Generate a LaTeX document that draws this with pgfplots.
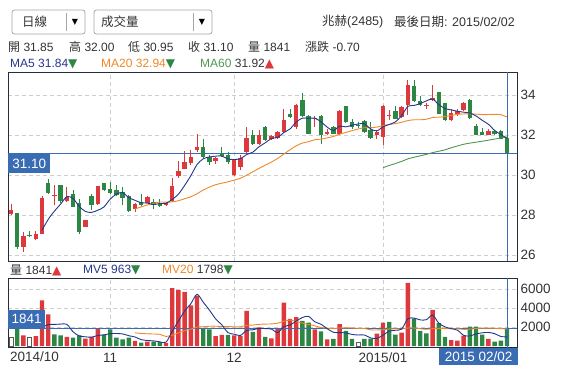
\documentclass[border=0pt]{standalone}
\usepackage{pgfplots}
\pgfplotsset{compat=1.18}
\usepackage{pgfplotstable}
\usepackage{fontspec}
\setmainfont{Liberation Sans}
\newfontfamily\cjk{Noto Sans CJK TC}
\newfontfamily\sym{DejaVu Sans}
\definecolor{cred}{RGB}{221,56,59}
\definecolor{cgreen}{RGB}{44,135,68}
\definecolor{ma5c}{RGB}{35,55,140}
\definecolor{ma20c}{RGB}{240,135,40}
\definecolor{ma60c}{RGB}{80,150,80}
\definecolor{lblue}{RGB}{58,108,180}
\definecolor{framec}{RGB}{35,45,60}
\definecolor{gridc}{RGB}{205,205,205}
\definecolor{txtc}{RGB}{51,51,51}
\newcommand\fs[1]{\fontsize{#1bp}{#1bp}\selectfont}

\pgfplotstableread{
i o h l c
0 28.07 28.55 28.00 28.23
2 26.40 27.15 26.15 26.95
4 26.78 27.18 26.73 27.03
5 27.07 28.95 27.05 28.85
7 28.93 29.48 28.48 29.02
9 28.68 29.40 28.65 28.90
12 27.40 27.75 27.38 27.73
14 28.53 29.45 28.50 29.43
20 28.32 28.62 28.15 28.57
22 28.62 28.93 28.60 28.90
25 28.48 28.65 28.45 28.62
26 28.68 29.85 28.65 29.45
27 29.93 30.70 29.87 30.20
28 30.32 31.18 30.28 30.65
29 30.60 31.23 30.48 30.90
30 31.27 32.07 31.15 31.40
33 30.68 30.90 30.57 30.85
36 29.98 30.80 29.95 30.78
37 30.40 30.98 30.23 30.85
38 31.15 32.40 31.07 31.87
40 31.57 32.23 31.52 31.98
42 31.82 31.98 31.77 31.93
43 31.85 32.18 31.82 32.15
44 32.15 33.32 32.12 32.77
46 32.40 33.57 32.28 33.48
49 32.80 32.93 32.40 32.83
51 32.07 32.32 31.98 32.15
53 32.07 33.23 32.02 33.18
59 31.98 32.23 31.82 32.15
60 31.90 33.48 31.48 33.45
61 32.95 33.25 32.75 33.00
63 32.90 33.45 32.85 33.40
64 33.48 34.73 32.98 34.48
67 33.47 33.60 33.32 33.50
68 33.73 34.52 33.72 33.85
71 32.73 33.32 32.68 33.12
72 33.07 33.28 32.95 33.18
73 33.23 33.65 33.18 33.60
77 32.02 32.28 31.98 32.18
}\redc

\pgfplotstableread{
i o h l c
1 28.10 28.12 26.28 26.40
3 27.00 27.20 26.90 26.95
6 29.60 29.82 29.07 29.12
8 29.48 29.50 28.62 28.70
10 29.07 29.23 28.38 28.40
11 28.60 28.82 27.07 27.15
13 28.95 29.07 28.23 28.48
15 29.60 29.62 29.20 29.23
16 29.32 29.65 29.07 29.10
17 29.23 29.48 28.95 28.98
18 29.15 29.40 28.48 28.85
19 28.95 29.02 28.15 28.18
21 28.65 29.07 28.43 28.48
23 28.65 28.82 28.28 28.48
24 28.57 28.82 28.40 28.45
31 31.40 31.82 30.85 30.90
32 30.90 31.00 30.52 30.65
34 31.10 31.40 30.90 30.95
35 31.02 31.15 30.57 30.65
39 31.98 32.23 31.52 31.57
41 32.40 32.45 31.72 31.77
45 33.07 33.28 32.87 32.90
47 33.73 34.12 32.90 32.93
48 32.93 32.98 32.03 32.07
50 32.93 32.98 31.57 31.98
52 32.40 32.45 32.03 32.07
54 33.43 33.45 32.62 32.65
55 32.65 32.82 32.32 32.40
56 32.52 32.65 32.35 32.45
57 32.68 32.73 32.12 32.15
58 32.23 32.65 31.82 31.87
62 33.18 33.45 32.78 32.82
65 34.45 34.73 33.65 33.68
66 33.70 33.95 33.45 33.48
69 34.15 34.17 33.03 33.07
70 33.60 33.62 32.68 32.73
74 33.77 33.82 32.82 32.85
75 32.45 32.57 31.98 32.02
76 32.15 32.35 31.98 32.02
78 32.18 32.23 32.00 32.07
79 32.18 32.23 31.78 31.82
80 31.85 32.00 30.95 31.10
}\greenc

\pgfplotstableread{
i v
5 27.236
6 27.780
7 28.194
8 28.544
9 28.918
10 28.828
11 28.434
12 28.176
13 28.132
14 28.238
15 28.404
16 28.794
17 29.044
18 29.118
19 28.868
20 28.736
21 28.612
22 28.596
23 28.522
24 28.576
25 28.586
26 28.780
27 29.040
28 29.474
29 29.964
30 30.520
31 30.810
32 30.900
33 30.940
34 30.950
35 30.800
36 30.776
37 30.816
38 31.020
39 31.144
40 31.410
41 31.608
42 31.824
43 31.880
44 32.120
45 32.304
46 32.646
47 32.846
48 32.830
49 32.842
50 32.658
51 32.392
52 32.220
53 32.442
54 32.406
55 32.490
56 32.550
57 32.566
58 32.304
59 32.204
60 32.414
61 32.524
62 32.658
63 32.964
64 33.430
65 33.476
66 33.572
67 33.708
68 33.798
69 33.516
70 33.326
71 33.254
72 33.190
73 33.140
74 33.096
75 32.954
76 32.734
77 32.534
78 32.228
79 32.022
80 31.838
}\mafive

\pgfplotstableread{
i v
20 28.301
21 28.405
22 28.503
23 28.579
24 28.650
25 28.639
26 28.655
27 28.714
28 28.812
29 28.912
30 29.062
31 29.249
32 29.395
33 29.514
34 29.590
35 29.661
36 29.745
37 29.838
38 29.989
39 30.159
40 30.329
41 30.494
42 30.645
43 30.829
44 31.045
45 31.259
46 31.460
47 31.597
48 31.668
49 31.764
50 31.793
51 31.856
52 31.927
53 32.043
54 32.128
55 32.216
56 32.299
57 32.364
58 32.364
59 32.393
60 32.467
61 32.528
62 32.573
63 32.635
64 32.721
65 32.760
66 32.760
67 32.788
68 32.877
69 32.889
70 32.927
71 32.975
72 33.031
73 33.052
74 33.062
75 33.043
76 33.021
77 33.023
78 33.033
79 33.016
80 32.899
}\matwenty

\pgfplotstableread{
i v
60 30.366
61 30.476
62 30.573
63 30.681
64 30.805
65 30.886
66 30.958
67 31.033
68 31.119
69 31.188
70 31.260
71 31.360
72 31.451
73 31.536
74 31.593
75 31.640
76 31.688
77 31.742
78 31.795
79 31.856
80 31.898
}\masixty

\pgfplotstableread{
i v
2 1120
4 1050
5 4800
6 3330
9 950
12 770
13 950
14 1820
20 530
22 460
25 300
26 6080
27 5880
28 5690
29 4280
30 5300
33 1050
34 1160
36 1120
37 1050
38 3690
40 1960
42 800
43 1880
44 4560
45 2850
46 3050
49 1740
51 700
53 2300
59 1300
60 2460
63 1400
64 6650
68 3800
71 620
72 560
73 1080
77 760
}\redv

\pgfplotstableread{
i v
1 1820
7 1230
8 1120
10 880
11 1120
15 1200
16 1750
17 880
18 700
19 880
21 350
23 460
24 420
31 1900
32 1750
35 1160
39 1500
41 950
47 2650
48 2460
50 1550
52 760
54 1580
55 760
57 760
58 770
61 2550
62 1200
65 2900
66 1580
67 1330
69 2400
70 970
74 2050
75 2050
76 1200
78 450
79 565
80 1841
}\greenv

\pgfplotstableread{
i v
0 950
3 950
56 400
}\hollowv

\pgfplotstableread{
i v
5 1948
6 2250
7 2272
8 2306
9 2286
10 1502
11 1060
12 968
13 934
14 1108
15 1172
16 1298
17 1320
18 1270
19 1082
20 948
21 668
22 584
23 536
24 444
25 398
26 1544
27 2628
28 3674
29 4446
30 5446
31 4610
32 3784
33 2856
34 2232
35 1404
36 1248
37 1108
38 1636
39 1704
40 1864
41 1830
42 1780
43 1418
44 2030
45 2208
46 2628
47 2998
48 3114
49 2550
50 2290
51 1820
52 1442
53 1410
54 1378
55 1220
56 1160
57 1160
58 854
59 798
60 1138
61 1568
62 1656
63 1782
64 2852
65 2940
66 2746
67 2772
68 3252
69 2402
70 2016
71 1824
72 1670
73 1126
74 1056
75 1272
76 1388
77 1428
78 1302
79 1005
80 963
}\mvfive

\pgfplotstableread{
i v
20 1392
21 1319
22 1286
23 1262
24 1230
25 1005
26 1143
27 1375
28 1604
29 1770
30 1991
31 2030
32 2079
33 2084
34 2051
35 2049
36 2018
37 2026
38 2176
39 2207
40 2278
41 2308
42 2325
43 2396
44 2603
45 2731
46 2579
47 2418
48 2256
49 2129
50 1942
51 1882
52 1832
53 1895
54 1916
55 1896
56 1860
57 1845
58 1699
59 1689
60 1714
61 1794
62 1814
63 1790
64 1895
65 1897
66 1824
67 1758
68 1825
69 1858
70 1829
71 1825
72 1815
73 1754
74 1777
75 1842
76 1882
77 1882
78 1866
79 1829
80 1798
}\mvtwenty

\pgfplotsset{
  panel/.style={
    scale only axis, width=509bp, anchor=north west,
    xmin=-0.484, xmax=81.61,
    axis line style={draw=framec, line width=0.9bp},
    xtick={16,36,60}, xmajorgrids, ymajorgrids,
    grid style={draw=gridc, dash pattern=on 4bp off 3bp, line width=0.7bp},
    major tick length=0pt, yticklabel pos=right,
    tick label style={font=\fs{13.5}, text=txtc},
    xticklabel style={yshift=-2.5bp},
    /pgf/number format/assume math mode=true,
    /pgf/number format/1000 sep={},
    scaled y ticks=false,
  },
  wick/.style={draw=none, forget plot, error bars/.cd, y dir=plus, y explicit,
    error mark=none, error bar style={draw=#1, line width=1bp}},
  body/.style={draw=none, forget plot, error bars/.cd, y dir=plus, y explicit,
    error mark=none, error bar style={draw=#1, line width=4.4bp}},
}

\begin{document}
\begin{tikzpicture}
\useasboundingbox (0,0) rectangle (567bp,-373bp);

% price panel
\begin{axis}[panel, at={(8bp,-72bp)}, height=189bp,
  ymin=25.7, ymax=35.15, ytick={26,28,30,32,34}, xticklabels={}]
\addplot[lblue, line width=0.9bp, forget plot] coordinates {(-2,31.1) (83,31.1)};
\addplot[lblue, line width=0.9bp, forget plot] coordinates {(80,25) (80,36)};
\addplot[wick=cred] table[x=i, y=l, y error expr=\thisrow{h}-\thisrow{l}] {\redc};
\addplot[body=cred] table[x=i, y=o, y error expr={max(\thisrow{c}-\thisrow{o},0.05)}] {\redc};
\addplot[wick=cgreen] table[x=i, y=l, y error expr=\thisrow{h}-\thisrow{l}] {\greenc};
\addplot[body=cgreen] table[x=i, y=c, y error expr={max(\thisrow{o}-\thisrow{c},0.05)}] {\greenc};
\addplot[ma60c, line width=0.9bp, smooth, mark=none] table[x=i, y=v] {\masixty};
\addplot[ma20c, line width=0.9bp, smooth, mark=none] table[x=i, y=v] {\matwenty};
\addplot[ma5c, line width=0.9bp, smooth, mark=none] table[x=i, y=v] {\mafive};
\end{axis}

% volume panel
\begin{axis}[panel, at={(8bp,-278bp)}, height=69bp,
  ymin=-105, ymax=7158, ytick={2000,4000,6000}, xticklabels={11,12,2015/01}]
\addplot[ybar, bar width=4.4bp, bar shift=0pt, fill=cred, draw=none, forget plot] table[x=i, y=v] {\redv};
\addplot[ybar, bar width=4.4bp, bar shift=0pt, fill=cgreen, draw=none, forget plot] table[x=i, y=v] {\greenv};
\addplot[ybar, bar width=3.8bp, bar shift=0pt, fill=white, draw=black!65, line width=0.6bp, forget plot] table[x=i, y=v] {\hollowv};
\addplot[lblue, line width=0.9bp, forget plot] coordinates {(-2,1841) (83,1841)};
\addplot[lblue, line width=0.9bp, forget plot] coordinates {(80,-200) (80,8000)};
\addplot[ma20c, line width=0.9bp, smooth, mark=none] table[x=i, y=v] {\mvtwenty};
\addplot[ma5c, line width=0.9bp, smooth, mark=none] table[x=i, y=v] {\mvfive};
\end{axis}

% header dropdowns
\draw[rounded corners=2.5bp, draw=black!35, fill=white, line width=0.8bp] (12bp,-10bp) rectangle (85bp,-34bp);
\draw[black!35, line width=0.8bp] (66bp,-13bp) -- (66bp,-31bp);
\node[anchor=center, inner sep=0] at (75bp,-22bp) {\sym\fs{8}▼};
\node[anchor=west, inner sep=0, text=txtc] at (22bp,-22bp) {\cjk\fs{12.5}日線};
\draw[rounded corners=2.5bp, draw=black!35, fill=white, line width=0.8bp] (94bp,-10bp) rectangle (212bp,-34bp);
\draw[black!35, line width=0.8bp] (193bp,-13bp) -- (193bp,-31bp);
\node[anchor=center, inner sep=0] at (202bp,-22bp) {\sym\fs{8}▼};
\node[anchor=west, inner sep=0, text=txtc] at (101bp,-22bp) {\cjk\fs{12.5}成交量};

\node[anchor=west, inner sep=0, text=txtc] at (322bp,-22bp) {\fs{12.5}{\cjk 兆赫}(2485)};
\node[anchor=east, inner sep=0, text=txtc] at (515bp,-22bp) {\fs{12.5}{\cjk 最後日期}: 2015/02/02};

% OHLC line
\begin{scope}[every node/.style={anchor=west, inner sep=0, text=txtc, font=\fs{12}}]
\node at (8bp,-47bp) {{\cjk 開} 31.85};
\node at (69bp,-47bp) {{\cjk 高} 32.00};
\node at (128bp,-47bp) {{\cjk 低} 30.95};
\node at (188bp,-47bp) {{\cjk 收} 31.10};
\node at (248bp,-47bp) {{\cjk 量} 1841};
\node at (305bp,-47bp) {{\cjk 漲跌} -0.70};
\node[text=ma5c] at (10bp,-64bp) {MA5 31.84{\sym\color{cgreen}▼}};
\node[text=ma20c] at (101bp,-64bp) {MA20 32.94{\sym\color{cgreen}▼}};
\node[text=ma60c] at (200bp,-64bp) {MA60 {\color{txtc}31.92}{\sym\color{cred}▲}};
\node at (10bp,-270bp) {{\cjk 量} 1841{\sym\color{cred}▲}};
\node[text=ma5c] at (83bp,-270bp) {MV5 963{\sym\color{cgreen}▼}};
\node[text=ma20c] at (162bp,-270bp) {MV20 {\color{txtc}1798}{\sym\color{cgreen}▼}};
\end{scope}

% value boxes
\node[anchor=north west, fill=lblue, text=white, minimum width=42bp, minimum height=19bp, inner sep=0, font=\fs{13.5}] at (8bp,-154bp) {31.10};
\node[anchor=north west, fill=lblue, text=white, minimum width=37bp, minimum height=18bp, inner sep=0, font=\fs{13.5}] at (8bp,-309.5bp) {1841};
\node[anchor=north west, fill=lblue, text=white, minimum width=79bp, minimum height=17bp, inner sep=0, font=\fs{13.5}] at (439bp,-347.5bp) {2015 02/02};
\node[anchor=west, inner sep=0, text=txtc, font=\fs{13.5}] at (10bp,-357bp) {2014/10};
\end{tikzpicture}
\end{document}
